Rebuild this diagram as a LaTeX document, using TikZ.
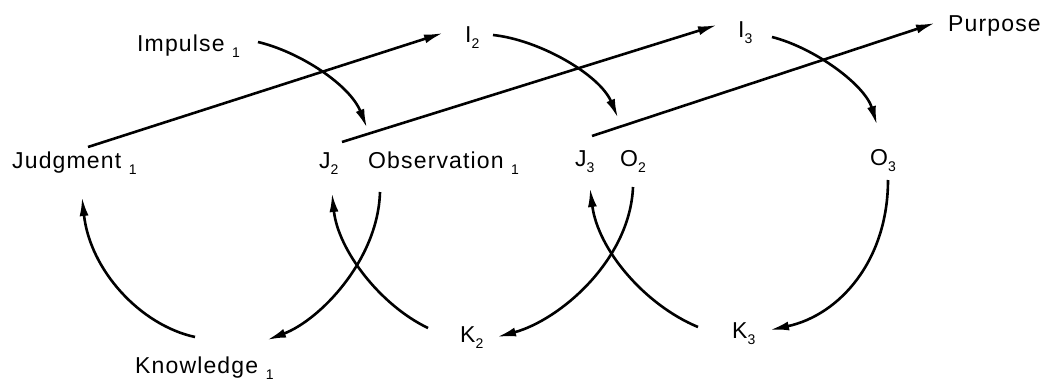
\documentclass[tikz,border=0pt]{standalone}
\usepackage{fontspec}
\setmainfont{Liberation Sans}
\newfontfamily\labfont[LetterSpace=5]{Liberation Sans}
\usetikzlibrary{arrows.meta}
\newcommand{\lsub}[1]{\raisebox{-6pt}{\fontsize{14}{14}\selectfont #1}}
\begin{document}
\begin{tikzpicture}[x=1pt,y=-1pt,
  lab/.style={anchor=base west,inner sep=0pt,font=\labfont\fontsize{23}{26}\selectfont},
  conn/.style={line width=2.6pt,-{Latex[length=19pt,width=9pt]}}]
\useasboundingbox[fill=white] (0,0) rectangle (1053,380);
% labels
\node[lab] (imp) at (137,51) {Impulse \lsub{1}};
\node[lab] (i2) at (465,42) {I\lsub{2}};
\node[lab] (i3) at (738,37) {I\lsub{3}};
\node[lab] (purp) at (948,31) {Purpose};
\node[lab] (judg) at (12,168) {Judgment \lsub{1}};
\node[lab] (j2) at (319,168) {J\lsub{2}};
\node[lab] (obs) at (368,168) {Observation \lsub{1}};
\node[lab] (j3) at (575,166) {J\lsub{3}};
\node[lab] (o2) at (620,166) {O\lsub{2}};
\node[lab] (o3) at (870,165) {O\lsub{3}};
\node[lab] (know) at (135,373) {Knowledge \lsub{1}};
\node[lab] (k2) at (460,342) {K\lsub{2}};
\node[lab] (k3) at (732,338) {K\lsub{3}};
% connector end points
\coordinate (l1s) at (88,147);  \coordinate (l1e) at (443,33);
\coordinate (l2s) at (342,142); \coordinate (l2e) at (717,25);
\coordinate (l3s) at (592,136); \coordinate (l3e) at (935,23);
\coordinate (a1s) at (258,42);  \coordinate (a1e) at (367,128);
\coordinate (a2s) at (493,35);  \coordinate (a2e) at (618,118);
\coordinate (a3s) at (772,37);  \coordinate (a3e) at (877,125);
\coordinate (b1s) at (195,337); \coordinate (b1e) at (82,197);
\coordinate (b2s) at (380,192); \coordinate (b2e) at (267,340);
\coordinate (b3s) at (428,328); \coordinate (b3e) at (332,193);
\coordinate (b4s) at (633,187); \coordinate (b4e) at (497,337);
\coordinate (b5s) at (698,327); \coordinate (b5e) at (590,188);
\coordinate (b6s) at (888,180); \coordinate (b6e) at (770,330);
% straight arrows
\draw[conn] (l1s) -- (l1e);
\draw[conn] (l2s) -- (l2e);
\draw[conn] (l3s) -- (l3e);
% top arcs
\draw[conn] (a1s) .. controls (300,52) and (350,85) .. (a1e);
\draw[conn] (a2s) .. controls (540,40) and (600,75) .. (a2e);
\draw[conn] (a3s) .. controls (815,48) and (865,85) .. (a3e);
% bottom arcs
\draw[conn] (b1s) .. controls (140,325) and (90,270) .. (b1e);
\draw[conn] (b2s) .. controls (378,260) and (320,320) .. (b2e);
\draw[conn] (b3s) .. controls (380,305) and (338,250) .. (b3e);
\draw[conn] (b4s) .. controls (630,260) and (560,320) .. (b4e);
\draw[conn] (b5s) .. controls (645,305) and (598,250) .. (b5e);
\draw[conn] (b6s) .. controls (888,260) and (840,315) .. (b6e);
\end{tikzpicture}
\end{document}
